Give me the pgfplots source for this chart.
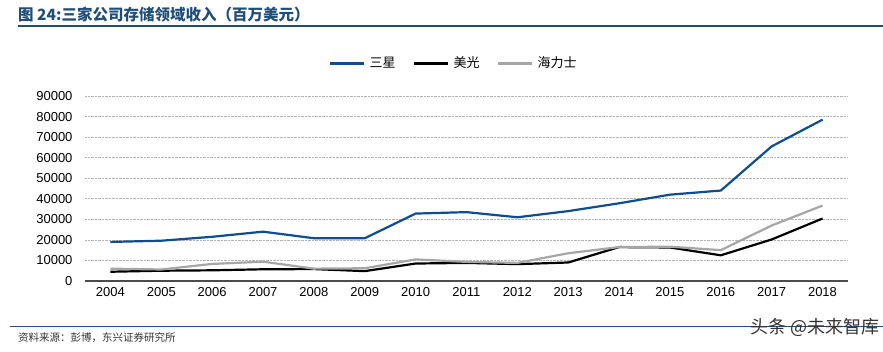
\documentclass[border=0pt]{standalone}
\usepackage{fontspec}
\setmainfont{Liberation Sans}
\newfontfamily\cjk{Noto Sans CJK SC}
\usepackage{pgfplots}
\pgfplotsset{compat=1.18}
\definecolor{sblue}{RGB}{14,77,146}
\definecolor{hgray}{RGB}{166,166,166}
\definecolor{tblue}{RGB}{31,78,121}
\begin{document}
\begin{tikzpicture}[x=1pt,y=1pt]
\useasboundingbox (0,0) rectangle (883,352);
% title
\node[anchor=base west,inner sep=0pt,text=tblue,font=\fontsize{15.5}{17}\selectfont\cjk\bfseries] at (18,331) {图 24:三家公司存储领域收入（百万美元）};
\draw[tblue,line width=1.5pt] (18,326) -- (883,326);
% footer
\draw[tblue,line width=0.8pt] (10,26) -- (883,26);
\node[anchor=base west,inner sep=0pt,text=black!80,font=\fontsize{10.5}{12}\selectfont\cjk\itshape] at (18,10) {资料来源：彭博，东兴证券研究所};
\node[anchor=base east,inner sep=0pt,text=black!80,font=\fontsize{18}{20}\selectfont\cjk] at (880,18) {头条 @未来智库};
\begin{axis}[
  at={(85pt,71pt)}, anchor=south west,
  scale only axis, width=763pt, height=185pt,
  xmin=2003.5, xmax=2018.5, ymin=0, ymax=90000,
  xtick={2004,...,2018}, ytick={0,10000,...,90000},
  xticklabel style={/pgf/number format/1000 sep={}, yshift=-3pt},
  yticklabel style={/pgf/number format/1000 sep={}, xshift=-9pt},
  scaled y ticks=false,
  /pgf/number format/assume math mode=true,
  tick label style={font=\fontsize{13}{15}\selectfont, text=black},
  major tick length=0pt,
  axis x line*=bottom, axis y line*=left,
  x axis line style={draw=black!70, line width=1.6pt, -},
  y axis line style={draw=none},
  ymajorgrids, grid style={densely dotted, black!30, line width=0.6pt},
  every axis plot/.append style={line width=2.2pt, mark=none, line join=round},
  legend columns=3,
  legend style={at={(0.483,1.178)}, anchor=center, draw=none, fill=none,
    font=\fontsize{13}{15}\selectfont\cjk, column sep=2pt,
    /tikz/every even column/.append style={column sep=15pt}},
  legend image code/.code={\draw[#1] (0pt,0pt) -- (34pt,0pt);},
  every legend image post/.append style={line width=3pt},
  clip=false,
]
\addplot[sblue] coordinates {(2004,19000)(2005,19600)(2006,21500)(2007,24000)(2008,20800)(2009,20800)(2010,32800)(2011,33500)(2012,31000)(2013,34000)(2014,37800)(2015,42000)(2016,44000)(2017,65500)(2018,78500)};
\addlegendentry{三星}
\addplot[black] coordinates {(2004,4500)(2005,5000)(2006,5200)(2007,5700)(2008,5800)(2009,4800)(2010,8500)(2011,8800)(2012,8200)(2013,9000)(2014,16500)(2015,16300)(2016,12500)(2017,20200)(2018,30400)};
\addlegendentry{美光}
\addplot[hgray] coordinates {(2004,6000)(2005,5600)(2006,8300)(2007,9400)(2008,6000)(2009,6200)(2010,10500)(2011,9300)(2012,8800)(2013,13500)(2014,16500)(2015,16700)(2016,15000)(2017,27000)(2018,36700)};
\addlegendentry{海力士}
\end{axis}
\end{tikzpicture}
\end{document}
